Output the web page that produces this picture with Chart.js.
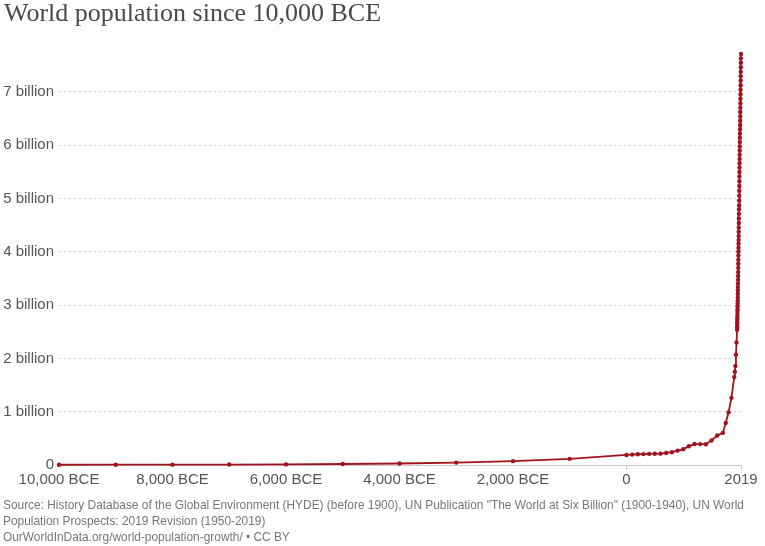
<!DOCTYPE html>
<html>
<head>
<meta charset="utf-8">
<script src="https://cdn.jsdelivr.net/npm/chart.js@4"></script>
<style>
  html, body { margin: 0; padding: 0; background: #fff; }
  #page { position: relative; width: 765px; height: 546px; overflow: hidden; }
  #chart-box { position: absolute; left: 0; top: 0; width: 765px; height: 546px; }
  #title { position: absolute; left: 4px; top: -2px; font-family: "Liberation Serif", serif; font-size: 26px; color: #4a4a4a; white-space: nowrap; }
  .note { position: absolute; left: 3px; font-family: "Liberation Sans", Arial, sans-serif; font-size: 11.9px; color: #777; white-space: nowrap; }
</style>
</head>
<body>
<div id="page">
  <div id="chart-box"><canvas id="pop-chart"></canvas></div>
  <div id="title">World population since 10,000 BCE</div>
  <div class="note" style="top:498px">Source: History Database of the Global Environment (HYDE) (before 1900), UN Publication "The World at Six Billion" (1900-1940), UN World</div>
  <div class="note" style="top:514px">Population Prospects: 2019 Revision (1950-2019)</div>
  <div class="note" style="top:530px">OurWorldInData.org/world-population-growth/ • CC BY</div>
</div>
<script>
// years (negative = BCE) and world population in billions
const years = [
  -10000, -9000, -8000, -7000, -6000, -5000, -4000, -3000, -2000, -1000,
  0, 100, 200, 300, 400, 500, 600, 700, 800, 900,
  1000, 1100, 1200, 1300, 1400, 1500, 1600, 1700, 1750, 1800,
  1850, 1900, 1910, 1920, 1930, 1940,
  1950, 1951, 1952, 1953, 1954, 1955, 1956, 1957, 1958, 1959,
  1960, 1961, 1962, 1963, 1964, 1965, 1966, 1967, 1968, 1969,
  1970, 1971, 1972, 1973, 1974, 1975, 1976, 1977, 1978, 1979,
  1980, 1981, 1982, 1983, 1984, 1985, 1986, 1987, 1988, 1989,
  1990, 1991, 1992, 1993, 1994, 1995, 1996, 1997, 1998, 1999,
  2000, 2001, 2002, 2003, 2004, 2005, 2006, 2007, 2008, 2009,
  2010, 2011, 2012, 2013, 2014, 2015, 2016, 2017, 2018, 2019
];
const population = [
  0.0044, 0.0055, 0.0067, 0.0081, 0.011, 0.0186, 0.028, 0.0446, 0.0726, 0.115,
  0.189, 0.195, 0.202, 0.205, 0.209, 0.210, 0.213, 0.226, 0.240, 0.269,
  0.295, 0.353, 0.393, 0.392, 0.390, 0.461, 0.554, 0.603, 0.790, 0.990,
  1.260, 1.650, 1.750, 1.860, 2.070, 2.300,
  2.536, 2.584, 2.631, 2.680, 2.726, 2.773, 2.822, 2.873, 2.925, 2.977,
  3.032, 3.083, 3.140, 3.210, 3.276, 3.339, 3.407, 3.475, 3.546, 3.620,
  3.700, 3.777, 3.854, 3.931, 4.006, 4.079, 4.151, 4.223, 4.297, 4.376,
  4.458, 4.541, 4.627, 4.713, 4.798, 4.871, 4.963, 5.055, 5.147, 5.237,
  5.327, 5.414, 5.498, 5.581, 5.663, 5.744, 5.823, 5.902, 5.980, 6.062,
  6.143, 6.222, 6.301, 6.381, 6.461, 6.542, 6.624, 6.706, 6.789, 6.873,
  6.957, 7.042, 7.126, 7.211, 7.296, 7.380, 7.464, 7.548, 7.631, 7.713
];
const xTicks = [-10000, -8000, -6000, -4000, -2000, 0, 2019];
const xTickMarks = [0, 2019];
const yTicks = [0, 1, 2, 3, 4, 5, 6, 7];

const red = '#a2141d';
const labelFont = { family: '"Liberation Sans", Arial, sans-serif', size: 15 };

function yearLabel(v) {
    if (v < 0) return Math.abs(v).toLocaleString('en-US') + ' BCE';
    return String(v);
}

new Chart(document.getElementById('pop-chart').getContext('2d'), {
    type: 'line',
    data: {
        datasets: [{
            data: years.map((y, i) => ({ x: y, y: population[i] })),
            borderColor: red,
            backgroundColor: red,
            borderWidth: 1.8,
            pointRadius: 2.2,
            pointBorderWidth: 0,
            pointBackgroundColor: red,
            tension: 0,
            clip: false
        }]
    },
    options: {
        responsive: true,
        maintainAspectRatio: false,
        animation: false,
        layout: { padding: { left: 4, right: 24, top: 54, bottom: 51 } },
        plugins: { legend: { display: false }, tooltip: { enabled: false } },
        scales: {
            x: {
                type: 'linear',
                min: -10000,
                max: 2019,
                afterBuildTicks: scale => { scale.ticks = xTicks.map(v => ({ value: v })); },
                afterFit: scale => { scale.height = 30; },
                ticks: {
                    autoSkip: false,
                    maxRotation: 0,
                    padding: 1,
                    color: '#555',
                    font: labelFont,
                    callback: v => yearLabel(v)
                },
                grid: {
                    drawOnChartArea: false,
                    drawTicks: true,
                    tickLength: 5,
                    tickColor: ctx => xTickMarks.includes(ctx.tick && ctx.tick.value) ? '#c8c8c8' : 'rgba(0,0,0,0)'
                },
                border: { display: true, color: '#c8c8c8', width: 1 }
            },
            y: {
                min: 0,
                max: 7.713,
                afterBuildTicks: scale => { scale.ticks = yTicks.map(v => ({ value: v })); },
                afterFit: scale => { scale.width = 55; },
                ticks: {
                    padding: 5,
                    color: '#555',
                    font: labelFont,
                    callback: v => v === 0 ? '0' : v + ' billion'
                },
                grid: {
                    drawTicks: false,
                    color: ctx => ctx.tick && ctx.tick.value === 0 ? 'rgba(0,0,0,0)' : '#cfcfcf',
                    lineWidth: 1
                },
                border: { display: false, dash: [2, 3] }
            }
        }
    }
});
</script>
</body>
</html>
